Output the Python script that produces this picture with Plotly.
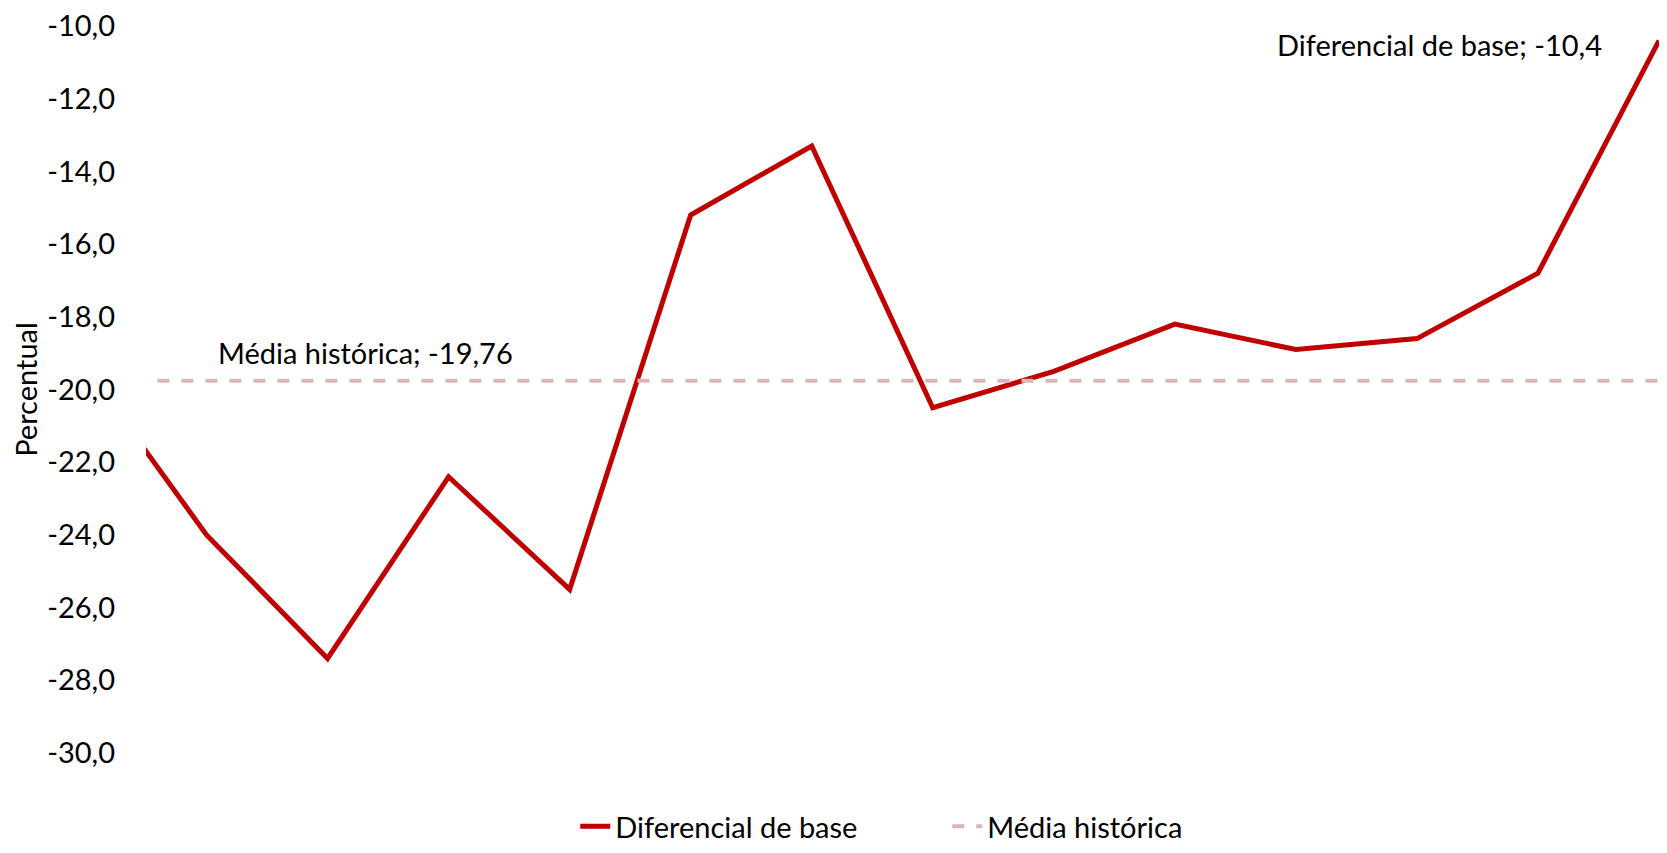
import plotly.graph_objects as go

# posicoes das categorias (eixo sem rotulos no original)
periodos = list(range(14))
diferencial = [-19.4, -24.0, -27.4, -22.4, -25.5, -15.2, -13.3, -20.5, -19.5, -18.2, -18.9, -18.6, -16.8, -10.4]
media_historica = -19.76

y_ticks = [-30, -28, -26, -24, -22, -20, -18, -16, -14, -12, -10]
y_labels = ["-30,0", "-28,0", "-26,0", "-24,0", "-22,0", "-20,0", "-18,0", "-16,0", "-14,0", "-12,0", "-10,0"]

fonte = "Lato"

fig = go.Figure()

fig.add_trace(go.Scatter(
    x=periodos, y=diferencial, mode="lines", name="Diferencial de base",
    line=dict(color="#C00000", width=5)
))
fig.add_trace(go.Scatter(
    x=periodos, y=[media_historica] * len(periodos), mode="lines", name="Média histórica",
    line=dict(color="rgb(217,182,184)", width=4, dash="dash")
))

fig.add_annotation(x=2.31, y=-18.98, xref="x", yref="y", text="Média histórica; -19,76",
                   showarrow=False, font=dict(family=fonte, size=29, color="black"))
fig.add_annotation(x=11.19, y=-10.5, xref="x", yref="y", text="Diferencial de base; -10,4",
                   showarrow=False, font=dict(family=fonte, size=29, color="black"))

# figura um pouco menor que a janela para nao gerar barras de rolagem
fig.update_layout(
    width=1651, height=837,
    margin=dict(l=138, r=0, t=18, b=92, autoexpand=False),
    paper_bgcolor="white", plot_bgcolor="white",
    font=dict(family=fonte, size=29, color="black"),
    showlegend=True,
    legend=dict(orientation="h", x=0.2837, xanchor="left", y=-0.066, yanchor="top",
                font=dict(family=fonte, size=29, color="black"), entrywidth=327),
)
fig.update_xaxes(range=[0.5, 13], showticklabels=False, showgrid=False, zeroline=False,
                 showline=False, ticks="")
fig.update_yaxes(range=[-30, -10], tickvals=y_ticks, ticktext=y_labels, showgrid=False,
                 zeroline=False, showline=False, ticks="", ticklabelstandoff=30,
                 ticklabeloverflow="allow",
                 title=dict(text="Percentual", standoff=22, font=dict(family=fonte, size=29)))

fig.write_html("out.html")
